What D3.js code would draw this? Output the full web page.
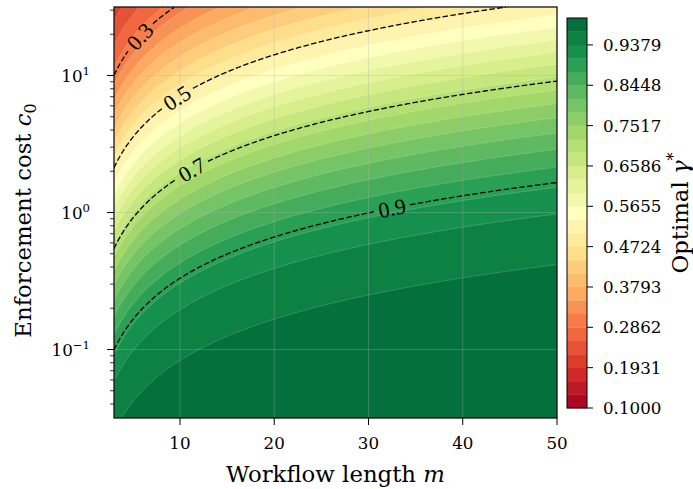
<!DOCTYPE html>
<html><head><meta charset="utf-8">
<script src="https://cdn.jsdelivr.net/npm/d3@7"></script>
<style>
body{margin:0;background:#fff}
svg{display:block}
text{font-family:"DejaVu Serif",serif;fill:#000}
</style>
</head><body>
<svg id="c" width="693" height="489"></svg>
<script>
// ---------------- data ----------------
const mRange = [3, 50];                 // workflow length m
const c0Range = [0.031623, 31.623];     // enforcement cost c0 (log axis)
const xTickValues = [10, 20, 30, 40, 50];
const xTickLabels = ["10", "20", "30", "40", "50"];
const yTickValues = [0.1, 1, 10];
const yTickExponents = ["\u22121", "0", "1"];
// optimal gamma* read along log10(c0/m) (contours are lines c0 ∝ m)
const logRatioKnots = [-3.3, -2.6, -2.08, -1.71, -1.48, -1.1, -0.74, -0.45, -0.15, 0.18, 0.525, 1.05];
const gammaKnots    = [0.998, 0.990, 0.969, 0.938, 0.900, 0.809, 0.700, 0.600, 0.500, 0.398, 0.300, 0.200];
// filled contour levels 0.1 .. 1.0 (30 levels)
const levelMin = 0.1, levelMax = 1.0, levelCount = 30;
const cbTickLabels = ["0.1000","0.1931","0.2862","0.3793","0.4724","0.5655","0.6586","0.7517","0.8448","0.9379"];
// labelled dashed contours and where their labels sit (m value)
const lineLevels = [0.3, 0.5, 0.7, 0.9];
const lineLabels = ["0.3", "0.5", "0.7", "0.9"];
const lineLabelM = [5.8, 9.7, 11.3, 32.5];
// matplotlib RdYlGn
const rdylgnStops = ["#a50026","#d73027","#f46d43","#fdae61","#fee08b","#ffffbf","#d9ef8b","#a6d96a","#66bd63","#1a9850","#006837"];

// ---------------- helpers ----------------
const levels = d3.range(levelCount).map(i => levelMin + i * (levelMax - levelMin) / (levelCount - 1));
const cmap = d3.scaleLinear().domain(d3.range(rdylgnStops.length).map(i => i / (rdylgnStops.length - 1)))
  .range(rdylgnStops).interpolate(d3.interpolateRgb).clamp(true);
const bandColor = k => cmap(((levels[k] + levels[k + 1]) / 2 - levelMin) / (levelMax - levelMin));

function monotone(xs, ys) {
  const n = xs.length, d = [], m = new Array(n);
  for (let i = 0; i < n - 1; i++) d.push((ys[i + 1] - ys[i]) / (xs[i + 1] - xs[i]));
  m[0] = d[0]; m[n - 1] = d[n - 2];
  for (let i = 1; i < n - 1; i++) m[i] = d[i - 1] * d[i] <= 0 ? 0 : (d[i - 1] + d[i]) / 2;
  for (let i = 0; i < n - 1; i++) {
    if (d[i] === 0) { m[i] = m[i + 1] = 0; continue; }
    const a = m[i] / d[i], b = m[i + 1] / d[i], s = a * a + b * b;
    if (s > 9) { const t = 3 / Math.sqrt(s); m[i] = t * a * d[i]; m[i + 1] = t * b * d[i]; }
  }
  return v => {
    if (v <= xs[0]) return ys[0] + m[0] * (v - xs[0]);
    if (v >= xs[n - 1]) return ys[n - 1] + m[n - 1] * (v - xs[n - 1]);
    const i = Math.min(n - 2, d3.bisectRight(xs, v) - 1);
    const h = xs[i + 1] - xs[i], t = (v - xs[i]) / h, t2 = t * t, t3 = t2 * t;
    return (2 * t3 - 3 * t2 + 1) * ys[i] + (t3 - 2 * t2 + t) * h * m[i] + (-2 * t3 + 3 * t2) * ys[i + 1] + (t3 - t2) * h * m[i + 1];
  };
}
const gOfRatio = monotone(logRatioKnots, gammaKnots);
const gamma = (m, c0) => Math.min(0.9995, gOfRatio(Math.log10(c0 / m)));

// ---------------- layout ----------------
const X0 = 114, X1 = 557, Y0 = 7, Y1 = 418;
const CBX0 = 567, CBX1 = 587, CBY0 = 18, CBY1 = 408;
const svg = d3.select("#c");
const x = d3.scaleLinear().domain(mRange).range([X0, X1]);
const y = d3.scaleLog().domain(c0Range).range([Y1, Y0]);

svg.append("defs").append("clipPath").attr("id", "plotclip")
  .append("rect").attr("x", X0).attr("y", Y0).attr("width", X1 - X0).attr("height", Y1 - Y0);

// ---------------- filled contours ----------------
const s = 2;
const nx = Math.ceil((X1 - X0) / s), ny = Math.ceil((Y1 - Y0) / s);
const values = new Float64Array(nx * ny);
for (let j = 0; j < ny; j++) {
  const c0 = y.invert(Y0 + (j + 0.5) * s);
  for (let i = 0; i < nx; i++) values[j * nx + i] = gamma(x.invert(X0 + (i + 0.5) * s), c0);
}
const contours = d3.contours().size([nx, ny]).thresholds(levels.slice(0, -1))(values);
const path = d3.geoPath(d3.geoIdentity().scale(s).translate([X0, Y0]));
const gFill = svg.append("g").attr("clip-path", "url(#plotclip)");
gFill.selectAll("path.band").data(contours).join("path").attr("class", "band")
  .attr("d", path).attr("fill", (c, k) => bandColor(k))
  .attr("stroke", "#ffffff").attr("stroke-opacity", 0.28).attr("stroke-width", 0.6);

// ---------------- grid ----------------
const gGrid = svg.append("g").attr("clip-path", "url(#plotclip)");
xTickValues.forEach(v => gGrid.append("line").attr("x1", x(v)).attr("x2", x(v)).attr("y1", Y0).attr("y2", Y1)
  .attr("stroke", "#b0b0b0").attr("stroke-opacity", 0.4).attr("stroke-width", 0.8));
yTickValues.forEach(v => gGrid.append("line").attr("y1", y(v)).attr("y2", y(v)).attr("x1", X0).attr("x2", X1)
  .attr("stroke", "#b0b0b0").attr("stroke-opacity", 0.4).attr("stroke-width", 0.8));

// ---------------- dashed contour lines with labels ----------------
function isoline(L) {
  const pts = [];
  const lo0 = Math.log10(c0Range[0]), hi0 = Math.log10(c0Range[1]);
  for (let px = X0; px <= X1; px += 1) {
    const m = x.invert(px);
    let lo = lo0, hi = hi0;
    if (!(gamma(m, 10 ** lo) >= L && gamma(m, 10 ** hi) <= L)) continue;
    for (let k = 0; k < 40; k++) { const mid = (lo + hi) / 2; if (gamma(m, 10 ** mid) > L) lo = mid; else hi = mid; }
    pts.push([px, y(10 ** ((lo + hi) / 2))]);
  }
  return pts;
}
const gLines = svg.append("g").attr("clip-path", "url(#plotclip)");
const gLab = svg.append("g");
const line = d3.line();
lineLevels.forEach((L, k) => {
  const pts = isoline(L);
  const lx = x(lineLabelM[k]);
  let idx = d3.minIndex(pts, p => Math.abs(p[0] - lx));
  const c = pts[idx];
  const t = gLab.append("text").attr("x", 0).attr("y", 0)
    .attr("text-anchor", "middle").attr("dominant-baseline", "central")
    .style("font-family", "'Liberation Serif', serif").style("font-size", "22px").text(lineLabels[k]);
  const w = t.node().getComputedTextLength();
  const dist = (a, b) => Math.hypot(a[0] - b[0], a[1] - b[1]);
  let i0 = idx, i1 = idx;
  while (i0 > 0 && dist(pts[i0], c) < w / 2) i0--;
  while (i1 < pts.length - 1 && dist(pts[i1], c) < w / 2) i1++;
  const ang = Math.atan2(pts[i1][1] - pts[i0][1], pts[i1][0] - pts[i0][0]) * 180 / Math.PI;
  t.attr("transform", `translate(${c[0]},${c[1]}) rotate(${ang})`);
  const a = ang * Math.PI / 180, half = w / 2 + 4;
  const segs = []; let cur = [];
  pts.forEach(p => {
    const dx = p[0] - c[0], dy = p[1] - c[1];
    const u = dx * Math.cos(a) + dy * Math.sin(a), v = -dx * Math.sin(a) + dy * Math.cos(a);
    if (Math.abs(u) < half && Math.abs(v) < 12) { if (cur.length > 1) segs.push(cur); cur = []; }
    else cur.push(p);
  });
  if (cur.length > 1) segs.push(cur);
  segs.forEach(sg => gLines.append("path").attr("d", line(sg)).attr("fill", "none")
    .attr("stroke", "#000").attr("stroke-width", 1.3).attr("stroke-dasharray", "5.5 2.4"));
});

// ---------------- axes ----------------
svg.append("rect").attr("x", X0).attr("y", Y0).attr("width", X1 - X0).attr("height", Y1 - Y0)
  .attr("fill", "none").attr("stroke", "#000").attr("stroke-width", 1.2);
const gAx = svg.append("g");
xTickValues.forEach((v, i) => {
  gAx.append("line").attr("x1", x(v)).attr("x2", x(v)).attr("y1", Y1).attr("y2", Y1 + 7).attr("stroke", "#000").attr("stroke-width", 1);
  gAx.append("text").attr("x", x(v)).attr("y", 449).attr("text-anchor", "middle").style("font-size", "16.7px").text(xTickLabels[i]);
});
yTickValues.forEach((v, i) => {
  gAx.append("line").attr("x1", X0 - 7).attr("x2", X0).attr("y1", y(v)).attr("y2", y(v)).attr("stroke", "#000").attr("stroke-width", 1);
  const t = gAx.append("text").attr("x", 90).attr("y", y(v) + 6).attr("text-anchor", "end").style("font-size", "16.7px");
  t.append("tspan").text("10");
  t.append("tspan").attr("dy", -7).style("font-size", "11.7px").text(yTickExponents[i]);
});
const minor = [];
[-2, -1, 0, 1].forEach(e => d3.range(2, 10).forEach(k => minor.push(k * 10 ** e)));
minor.filter(v => v >= c0Range[0] && v <= c0Range[1]).forEach(v =>
  gAx.append("line").attr("x1", X0 - 4).attr("x2", X0).attr("y1", y(v)).attr("y2", y(v)).attr("stroke", "#000").attr("stroke-width", 0.8));

// axis labels
const xl = svg.append("text").attr("x", (X0 + X1) / 2).attr("y", 482).attr("text-anchor", "middle").style("font-size", "22.8px");
xl.append("tspan").text("Workflow length ");
xl.append("tspan").style("font-style", "italic").text("m");
const yl = svg.append("text").attr("transform", `translate(31,${(Y0 + Y1) / 2 + 8}) rotate(-90)`).attr("text-anchor", "middle").style("font-size", "22.8px");
yl.append("tspan").text("Enforcement cost ");
yl.append("tspan").style("font-style", "italic").text("c");
yl.append("tspan").attr("dy", 5).style("font-size", "15.9px").text("0");

// ---------------- colorbar ----------------
const cy = d3.scaleLinear().domain([levelMin, levelMax]).range([CBY1, CBY0]);
const gCb = svg.append("g");
d3.range(levelCount - 1).forEach(k => gCb.append("rect").attr("x", CBX0).attr("width", CBX1 - CBX0)
  .attr("y", cy(levels[k + 1])).attr("height", cy(levels[k]) - cy(levels[k + 1]) + 0.3).attr("fill", bandColor(k)));
gCb.append("rect").attr("x", CBX0).attr("y", CBY0).attr("width", CBX1 - CBX0).attr("height", CBY1 - CBY0)
  .attr("fill", "none").attr("stroke", "#000").attr("stroke-width", 1);
cbTickLabels.forEach(lbl => {
  const v = +lbl;
  gCb.append("line").attr("x1", CBX1).attr("x2", CBX1 + 6).attr("y1", cy(v)).attr("y2", cy(v)).attr("stroke", "#000").attr("stroke-width", 1);
  gCb.append("text").attr("x", 603).attr("y", cy(v)).attr("dominant-baseline", "central").style("font-size", "16.7px").text(lbl);
});
const cl = svg.append("text").attr("transform", `translate(688,${(CBY0 + CBY1) / 2}) rotate(-90)`).attr("text-anchor", "middle").style("font-size", "22.8px");
cl.append("tspan").text("Optimal ");
cl.append("tspan").style("font-style", "italic").text("\u03b3");
cl.append("tspan").attr("dy", -9).style("font-size", "15.9px").text("*");
</script>
</body></html>
